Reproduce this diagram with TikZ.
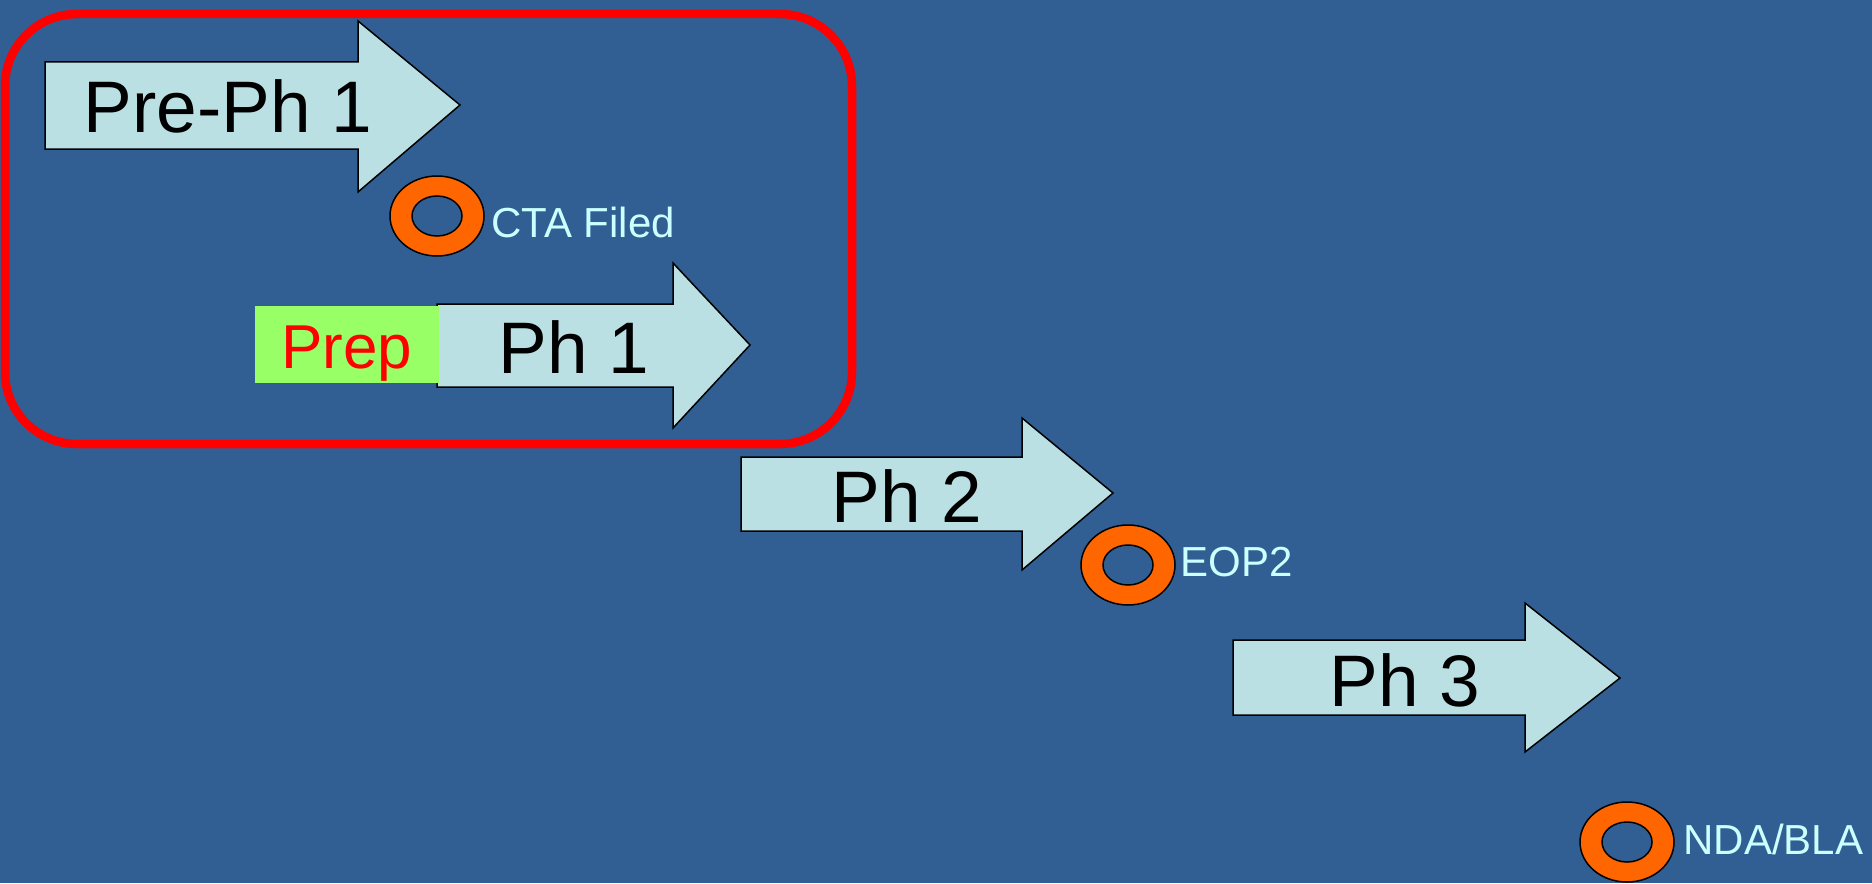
\documentclass[tikz,border=0pt]{standalone}
\usepackage{fontspec}
\setmainfont{Liberation Sans}
\usetikzlibrary{shapes.geometric}

\definecolor{bgblue}{RGB}{49,95,147}
\definecolor{phasecyan}{RGB}{187,224,227}
\definecolor{ringorange}{RGB}{255,102,0}
\definecolor{prepgreen}{RGB}{153,255,102}
\definecolor{milestonetext}{RGB}{204,255,255}

\tikzset{
  phase/.style={draw=black,line width=0.75pt,fill=phasecyan,line join=miter},
  phasetext/.style={anchor=base,inner sep=0pt,text=black,font=\fontsize{36.5}{40}\selectfont},
  prepbox/.style={rectangle,fill=prepgreen,minimum width=91.75pt,minimum height=38.5pt,inner sep=0pt},
  preptext/.style={anchor=base,inner sep=0pt,text=red,font=\fontsize{31}{34}\selectfont},
  ring/.style={ellipse,draw=black,line width=0.75pt,fill=ringorange,minimum width=47pt,minimum height=40pt,inner sep=0pt,
    path picture={\draw[line width=0.75pt,fill=bgblue] (path picture bounding box.center) ellipse (12.5pt and 10pt);}},
  milestone/.style={anchor=base west,inner sep=0pt,text=milestonetext,font=\fontsize{21}{24}\selectfont},
}

% block arrow: left, body top, body bottom, head base, head top, head bottom, tip x, tip y
\newcommand{\phasearrow}[8]{%
  \draw[phase] (#1,#2) -- (#4,#2) -- (#4,#5) -- (#7,#8) -- (#4,#6) -- (#4,#3) -- (#1,#3) -- cycle;}

\begin{document}
\begin{tikzpicture}[x=0.5pt,y=-0.5pt]
	\fill[bgblue] (0,0) rectangle (1872,883);

	% early phases
	\draw[red,line width=4.25pt,rounded corners=36pt] (5,14) rectangle (852,444);

	\phasearrow{45}{62}{149}{358}{21}{192}{460}{105}
	\node[phasetext] (preph1) at (228,133) {Pre-Ph 1};

	\node[ring] (cta) at (437,216) {};
	\node[milestone] (ctalabel) at (491,237) {CTA Filed};

	\phasearrow{437}{304}{387}{673}{263}{428}{750}{345}
	\node[prepbox] (prep) at (347,344.5) {};
	\node[preptext] (preplabel) at (347,368) {Prep};
	\node[phasetext] (ph1) at (574,373) {Ph 1};

	% later phases
	\phasearrow{741}{457}{531}{1022}{418}{570}{1113}{493}
	\node[phasetext] (ph2) at (907,522) {Ph 2};

	\node[ring] (eop2) at (1128,565) {};
	\node[milestone] (eop2label) at (1180,576) {EOP2};

	\phasearrow{1233}{640}{715}{1525}{603}{752}{1620}{678}
	\node[phasetext] (ph3) at (1405,706) {Ph 3};

	\node[ring] (nda) at (1627,842) {};
	\node[milestone] (ndalabel) at (1683,854) {NDA/BLA};
\end{tikzpicture}
\end{document}
